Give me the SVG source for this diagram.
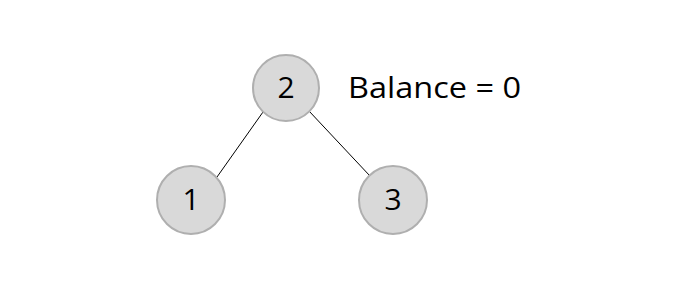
<svg xmlns="http://www.w3.org/2000/svg" width="700" height="299" viewBox="0 0 700 299">
<style>
.node{fill:#d9d9d9;stroke:#afafaf;stroke-width:2}
.lbl{font-family:"Open Sans","Liberation Sans",sans-serif;font-size:30px;fill:#000;text-anchor:middle}
.edge{stroke:#000;stroke-width:1}
</style>
<rect width="700" height="299" fill="#fff"/>
<g id="connectors">
<line class="edge" x1="263" y1="112" x2="217" y2="177"/>
<line class="edge" x1="309" y1="111" x2="370" y2="176"/>
</g>
<g id="node2">
<circle class="node" cx="286" cy="88" r="33"/>
<text class="lbl" x="286" y="98">2</text>
</g>
<g id="node1">
<circle class="node" cx="191" cy="200" r="34"/>
<text class="lbl" x="191" y="210">1</text>
</g>
<g id="node3">
<circle class="node" cx="393" cy="200" r="34"/>
<text class="lbl" x="393" y="210">3</text>
</g>
<g id="balance">
<text x="348" y="98" font-family="Open Sans, Liberation Sans, sans-serif" font-size="30" textLength="173" lengthAdjust="spacingAndGlyphs">Balance = 0</text>
</g>
</svg>
